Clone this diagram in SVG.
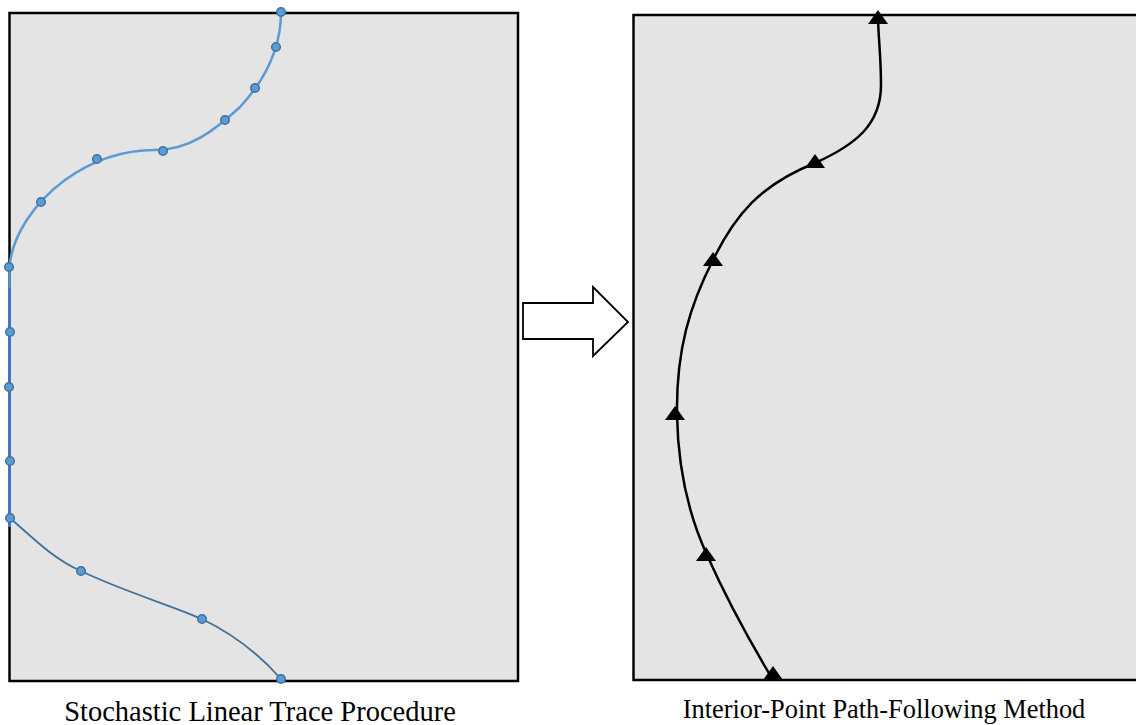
<svg xmlns="http://www.w3.org/2000/svg" width="1136" height="725" viewBox="0 0 1136 725">
<style>
.panel{fill:#e4e4e4;stroke:#000;stroke-width:2.5}
.trace{fill:none;stroke:#5b9bd5;stroke-width:2.5}
.trace2{fill:none;stroke:#41719c;stroke-width:1.8}
.vert{fill:none;stroke:#4472c4;stroke-width:3}
.dot{fill:#5b9bd5;stroke:#41719c;stroke-width:1.5}
.ipm{fill:none;stroke:#000;stroke-width:2.5}
.lbl{font-family:"Liberation Serif","Times New Roman",serif;fill:#000;text-anchor:middle}
</style>
<defs>
<path id="tri" d="M0,-8 L10,6 L-10,6 Z" fill="#000"/>
<circle id="dt" r="4.3" class="dot"/>
</defs>
<g id="left-panel">
<rect class="panel" x="9.5" y="13" width="508.5" height="668"/>
</g>
<g id="right-panel">
<rect class="panel" x="633.5" y="15" width="520" height="665"/>
</g>
<g id="connectors">
<path class="trace" d="M281,12 C281,50 265,80 240,107 C215,130 190,150 155,150 C120,150 90,162 65,180 C35,202 12,235 9.5,267 L9.5,288"/>
<line class="vert" x1="9.5" y1="288" x2="9.5" y2="527"/>
<path class="trace2" d="M10,518 C35,540 55,560 81,571 C120,590 170,605 202,619 C235,635 260,655 281,679"/>
<path class="ipm" d="M773,680 C752,645 727,600 707,555 C690,518 678,470 677,415 C676,350 690,305 713,260 C735,215 760,185 815,163 C855,145 881,125 881,85 C881,55 878,35 878,15"/>
<polygon points="523,303 593,303 593,287 628,322 593,356 593,339 523,339" fill="#fff" stroke="#000" stroke-width="1.8"/>
</g>
<g id="trace-points">
<use href="#dt" x="281" y="12"/>
<use href="#dt" x="276" y="47"/>
<use href="#dt" x="255" y="88"/>
<use href="#dt" x="225" y="120"/>
<use href="#dt" x="163" y="151"/>
<use href="#dt" x="97" y="159"/>
<use href="#dt" x="41" y="202"/>
<use href="#dt" x="9" y="267"/>
<use href="#dt" x="10" y="332"/>
<use href="#dt" x="9" y="387"/>
<use href="#dt" x="10" y="461"/>
<use href="#dt" x="10" y="518"/>
<use href="#dt" x="81" y="571"/>
<use href="#dt" x="202" y="619"/>
<use href="#dt" x="281" y="679"/>
</g>
<g id="path-markers">
<use href="#tri" x="878" y="18"/>
<use href="#tri" x="815" y="162"/>
<use href="#tri" x="713" y="260"/>
<use href="#tri" x="675" y="414"/>
<use href="#tri" x="706" y="555"/>
<use href="#tri" x="773" y="674"/>
</g>
<g id="labels">
<text class="lbl" x="260" y="721" font-size="28.5">Stochastic Linear Trace Procedure</text>
<text class="lbl" x="884" y="718" font-size="26.4">Interior-Point Path-Following Method</text>
</g>
</svg>
